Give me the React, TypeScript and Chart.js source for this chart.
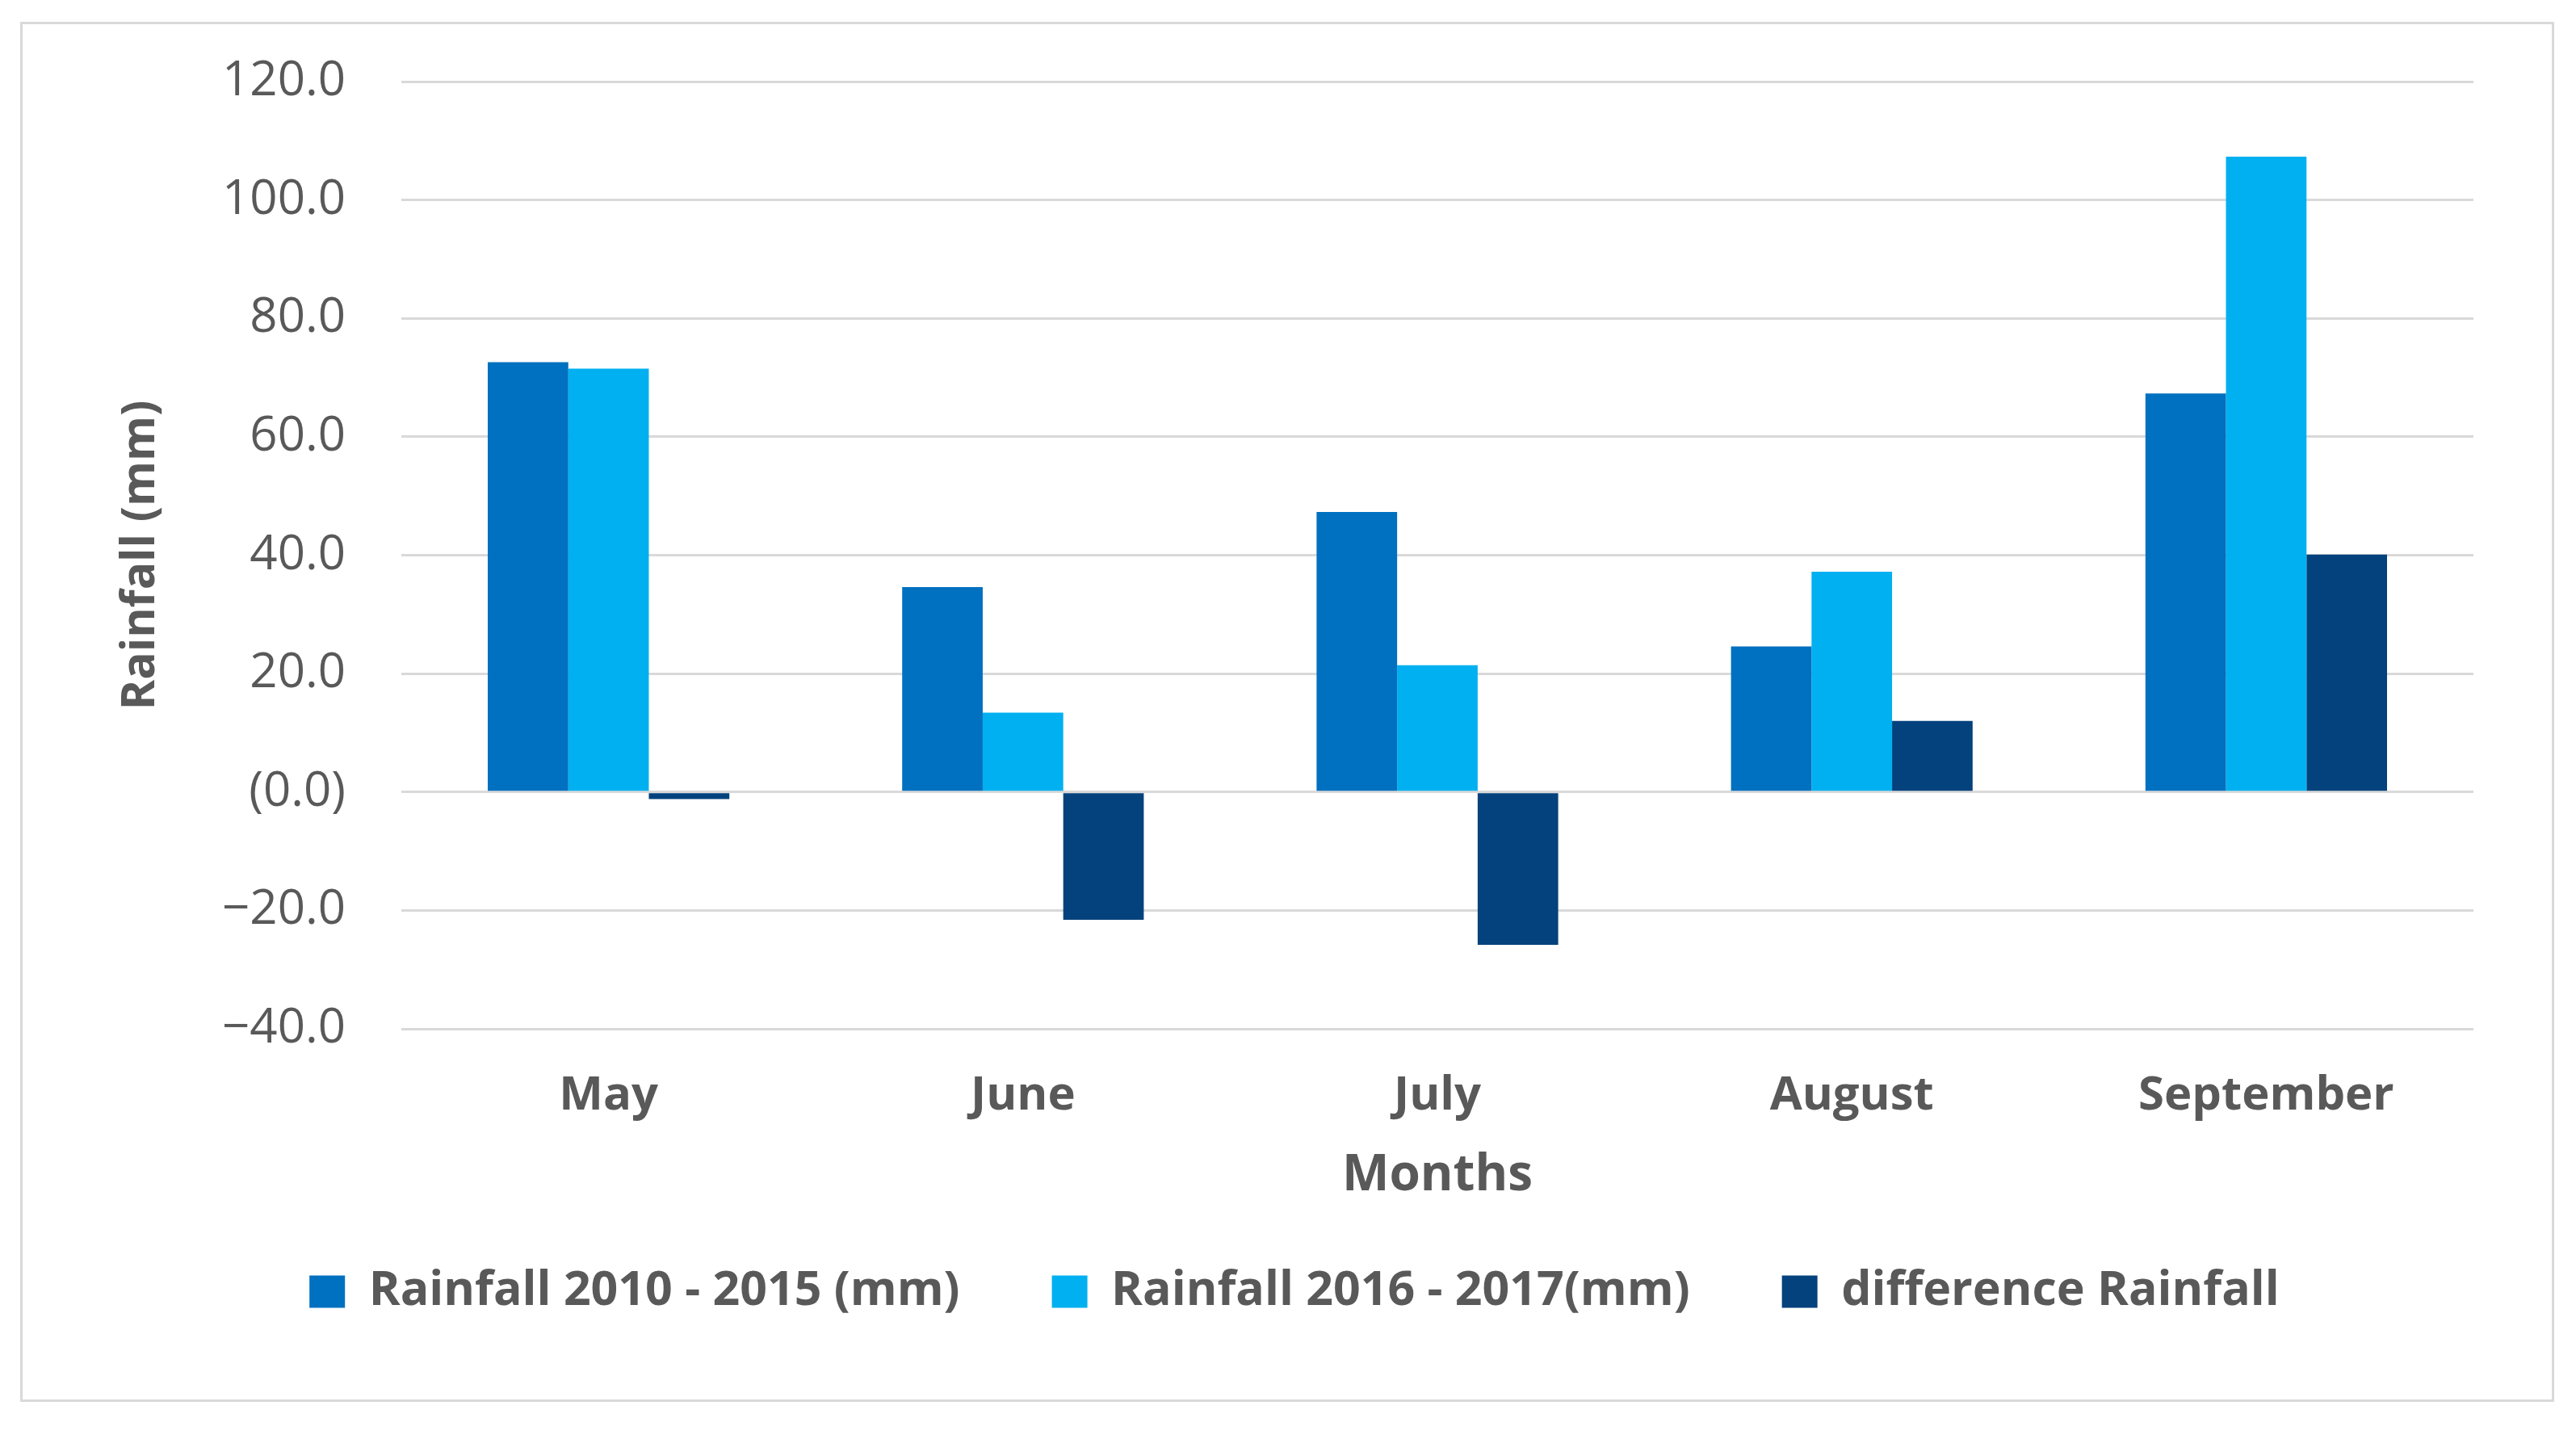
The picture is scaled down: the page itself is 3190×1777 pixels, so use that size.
import React, { useEffect, useRef } from "react";
import { Chart, registerables } from "chart.js";

Chart.register(...registerables);

const months = ["May", "June", "July", "August", "September"];
const rainfall2010to2015 = [72.6, 34.6, 47.3, 24.6, 67.3];
const rainfall2016to2017 = [71.5, 13.4, 21.4, 37.2, 107.3];
const differenceRainfall = [-1.2, -21.6, -25.8, 12.0, 40.1];

const seriesLabels = [
  "Rainfall 2010 - 2015 (mm)",
  "Rainfall 2016 - 2017(mm)",
  "difference Rainfall",
];
const seriesColors = ["#0070C0", "#00B0F0", "#03427C"];

const yTickValues = [-40, -20, 0, 20, 40, 60, 80, 100, 120];
const yTickLabels = ["−40.0", "−20.0", "(0.0)", "20.0", "40.0", "60.0", "80.0", "100.0", "120.0"];

const TEXT = "#595959";
const GRID = "#d9d9d9";
const FONT = "'Open Sans', 'Noto Sans', 'DejaVu Sans', sans-serif";

export default function App() {
  const ref = useRef<HTMLCanvasElement | null>(null);

  useEffect(() => {
    if (!ref.current) return;
    const chart = new Chart(ref.current, {
      type: "bar",
      data: {
        labels: months,
        datasets: [rainfall2010to2015, rainfall2016to2017, differenceRainfall].map((d, i) => ({
          label: seriesLabels[i],
          data: d,
          backgroundColor: seriesColors[i],
          borderWidth: 0,
          barPercentage: 1,
          categoryPercentage: 0.583,
        })),
      },
      options: {
        animation: false,
        responsive: false,
        devicePixelRatio: 1,
        layout: { padding: { top: 71, right: 97, bottom: 94, left: 115 } },
        plugins: {
          tooltip: { enabled: false },
          legend: {
            position: "bottom",
            labels: {
              color: TEXT,
              font: { family: FONT, size: 59, weight: "bold" },
              boxWidth: 44,
              boxHeight: 40,
              padding: 114,
            },
          },
        },
        scales: {
          x: {
            afterFit: (scale: any) => {
              scale.height = 182;
            },
            grid: { display: false },
            border: { display: false },
            ticks: {
              color: TEXT,
              padding: 40.5,
              font: { family: FONT, size: 58, weight: "bold" },
            },
            title: {
              display: true,
              text: "Months",
              color: TEXT,
              font: { family: FONT, size: 62, weight: "bold" },
              padding: { top: 0, bottom: -38 },
            },
          },
          y: {
            min: -40,
            max: 120,
            afterBuildTicks: (scale: any) => {
              scale.ticks = yTickValues.map((v) => ({ value: v }));
            },
            afterFit: (scale: any) => {
              scale.width = 354;
            },
            grid: {
              color: GRID,
              lineWidth: 3,
              drawTicks: true,
              tickLength: 69,
              tickColor: "rgba(0,0,0,0)",
            },
            border: { display: false },
            ticks: {
              color: TEXT,
              padding: 0,
              font: { family: FONT, size: 60 },
              callback: (value: any) => {
                const idx = yTickValues.indexOf(Number(value));
                return idx >= 0 ? yTickLabels[idx] : "";
              },
            },
            title: {
              display: true,
              text: "Rainfall (mm)",
              color: TEXT,
              font: { family: FONT, size: 57, weight: "bold" },
              padding: { top: -2, bottom: 0 },
            },
          },
        },
      },
    });
    return () => chart.destroy();
  }, []);

  return (
    <div
      style={{
        position: "absolute",
        left: 25,
        top: 27,
        width: 3138,
        height: 1709,
        border: "3px solid #d9d9d9",
        boxSizing: "border-box",
        background: "#fff",
      }}
    >
      <canvas ref={ref} width={3132} height={1703} style={{ display: "block", width: 3132, height: 1703 }} />
    </div>
  );
}
